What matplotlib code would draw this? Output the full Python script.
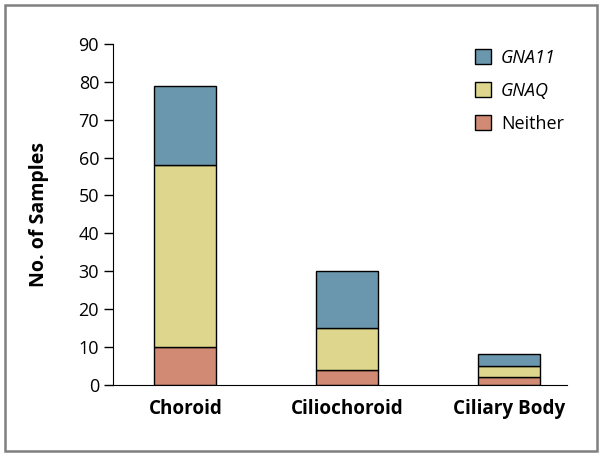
from matplotlib import pyplot as plt
from matplotlib.patches import Rectangle
import numpy as np

plt.rcParams['font.family'] = ['Open Sans', 'DejaVu Sans']

# data
categories = ['Choroid', 'Ciliochoroid', 'Ciliary Body']
neither = [10, 4, 2]
gnaq = [48, 11, 3]
gna11 = [21, 15, 3]

series_names = ['Neither', 'GNAQ', 'GNA11']
series_colors = ['#d18b74', '#ddd68c', '#6a97ae']

fig = plt.figure(figsize=(6.01, 4.57), dpi=100)
ax = fig.add_axes([0.188, 0.158, 0.755, 0.746])

# grey frame round the whole figure
fig.patches.append(Rectangle((0.0083, 0.0131), 0.985, 0.976, transform=fig.transFigure,
                             fill=False, edgecolor='#808080', linewidth=1.8))

x = np.arange(len(categories))
bottom = np.zeros(len(categories))
bars = []
for values, name, color in zip([neither, gnaq, gna11], series_names, series_colors):
    b = ax.bar(x, values, width=0.383, bottom=bottom, color=color,
               edgecolor='black', linewidth=1, label=name)
    bars.append(b)
    bottom += np.array(values)

ax.set_xlim(-0.4475, 2.358)
ax.set_ylim(0, 90)
ax.set_yticks(np.arange(0, 91, 10))
ax.set_xticks(x)
ax.set_xticklabels(categories, fontsize=13.6, fontweight='bold')
ax.tick_params(axis='x', length=0, pad=10)
ax.tick_params(axis='y', length=6.5, width=1, labelsize=13, pad=3.5)
ax.spines['top'].set_visible(False)
ax.spines['right'].set_visible(False)
ax.set_ylabel('No. of Samples', fontsize=14, fontweight='bold')
ax.yaxis.set_label_coords(-0.14, 0.5)

# legend, top series first
leg = ax.legend(bars[::-1], series_names[::-1], loc='upper left', frameon=False,
                fontsize=13, handlelength=0.9, handleheight=0.9, handletextpad=0.55,
                labelspacing=0.82, borderpad=0, borderaxespad=0,
                bbox_to_anchor=(0.797, 0.985))
for t in leg.get_texts():
    if t.get_text().startswith('GNA'):
        t.set_style('italic')

plt.savefig('out.png', dpi=100)
